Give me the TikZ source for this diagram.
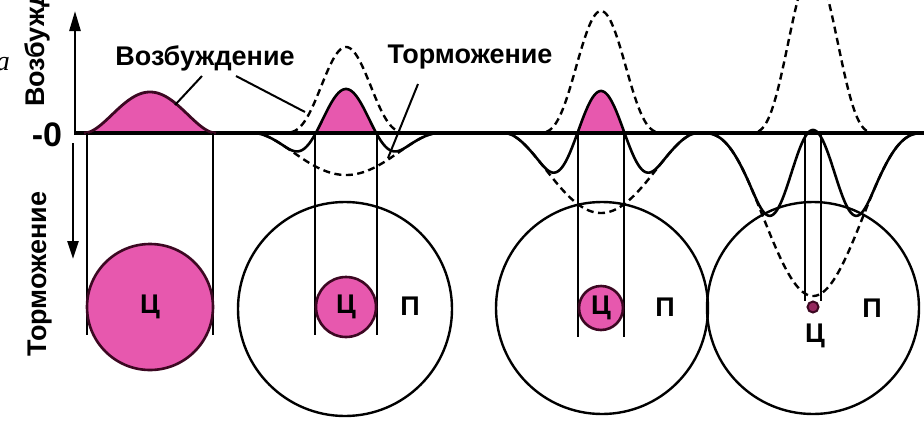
\documentclass[tikz,border=0pt]{standalone}
\usepackage{fontspec}
\setmainfont{Liberation Sans}
\newfontfamily\serifit{Liberation Serif}
\usetikzlibrary{arrows.meta}
\definecolor{pinkfill}{RGB}{231,88,174}
\definecolor{pinkedge}{RGB}{60,8,34}
\definecolor{dotfill}{RGB}{150,40,95}
\begin{document}
\begin{tikzpicture}[x=1pt,y=-1pt,
  declare function={
    ee(\dx,\amp,\wid)=\amp*(max(0,1-(\dx/\wid)*(\dx/\wid)))^4;
    ii(\dx,\amp,\wid,\pw)=\amp*(max(0,1-(\dx/\wid)*(\dx/\wid)))^\pw;
  },
  solidc/.style={line width=2.6pt,black,line join=round,line cap=round},
  dashc/.style={line width=2.4pt,black,dash pattern=on 7pt off 4.5pt},
  vline/.style={line width=1.8pt,black},
  ring/.style={circle,draw=black,line width=2.4pt,inner sep=0pt},
  pinkring/.style={circle,draw=pinkedge,fill=pinkfill,line width=2.6pt,inner sep=0pt},
  zeroline/.style={line width=3.2pt,black},
  axisline/.style={line width=2.6pt,black},
  leader/.style={line width=2pt,black},
  lbl/.style={font=\fontsize{27}{30}\selectfont\bfseries,inner sep=0pt},
  cell/.style={font=\fontsize{27}{29}\selectfont\bfseries,inner sep=0pt}
]
\useasboundingbox (0,0) rectangle (924,421);

% ---------- pink fills ----------
\fill[pinkfill] plot[domain=-66:66,samples=80] ({150+\x},{133-41*(max(0,1-(\x/66)*(\x/66)))^2}) -- cycle;
\fill[pinkfill] plot[domain=-34:34,samples=70] ({346+\x},{133-max(0,ee(\x,86,66)-ii(\x,42,93,2))}) -- cycle;
\fill[pinkfill] plot[domain=-26:26,samples=60] ({601+\x},{133-max(0,ee(\x,122,66)-ii(\x,80,97,2))}) -- cycle;

% ---------- zero line and axes ----------
\coordinate (b0) at (74,133);
\coordinate (b1) at (924,133);
\draw[zeroline] (b0) -- (b1);
\coordinate (ax0) at (75,133);
\coordinate (axtop) at (75,11);
\draw[axisline,-{Triangle[length=20pt,width=11pt]}] (ax0) -- (axtop);
\coordinate (ax1) at (73,143);
\coordinate (axbot) at (73,259);
\draw[axisline,-{Triangle[length=18pt,width=11pt]}] (ax1) -- (axbot);

% ---------- panel 1 ----------
\draw[line width=2.8pt,pinkedge,line join=round] plot[domain=-66:66,samples=80] ({150+\x},{133-41*(max(0,1-(\x/66)*(\x/66)))^2});
\coordinate (p1a) at (87,133); \coordinate (p1b) at (87,335);
\coordinate (p1c) at (213,133); \coordinate (p1d) at (213,335);
\draw[vline] (p1a) -- (p1b);
\draw[vline] (p1c) -- (p1d);
\node[pinkring,minimum size=126pt] (c1) at (150,307) {};
\node[cell] (c1l) at (c1) {Ц};

% ---------- panel 2 ----------
\draw[dashc] plot[domain=-66:66,samples=120] ({346+\x},{133-ee(\x,86,66)});
\draw[dashc] plot[domain=-93:93,samples=140] ({346+\x},{133+ii(\x,42,93,2)});
\draw[solidc] plot[domain=-93:93,samples=200] ({346+\x},{133-(ee(\x,86,66)-ii(\x,42,93,2))});
\node[ring,minimum size=214pt] (big2) at (345,309) {};
\coordinate (p2a) at (315,133); \coordinate (p2b) at (315,335);
\coordinate (p2c) at (377,133); \coordinate (p2d) at (377,335);
\draw[vline] (p2a) -- (p2b);
\draw[vline] (p2c) -- (p2d);
\node[pinkring,minimum size=60pt] (c2) at (346,307) {};
\node[cell] (c2l) at (c2) {Ц};
\node[cell] (p2l) at (410,306) {П};

% ---------- panel 3 ----------
\draw[dashc] plot[domain=-66:66,samples=120] ({601+\x},{133-ee(\x,122,66)});
\draw[dashc] plot[domain=-97:97,samples=140] ({601+\x},{133+ii(\x,80,97,2)});
\draw[solidc] plot[domain=-97:97,samples=200] ({601+\x},{133-(ee(\x,122,66)-ii(\x,80,97,2))});
\node[ring,minimum size=212pt] (big3) at (602,308) {};
\coordinate (p3a) at (578,133); \coordinate (p3b) at (578,337);
\coordinate (p3c) at (624,133); \coordinate (p3d) at (624,337);
\draw[vline] (p3a) -- (p3b);
\draw[vline] (p3c) -- (p3d);
\node[pinkring,minimum size=44pt] (c3) at (601,308) {};
\node[cell] (c3l) at (c3) {Ц};
\node[cell] (p3l) at (665,307) {П};

% ---------- panel 4 ----------
\draw[dashc] plot[domain=-66:66,samples=160] ({813+\x},{133-ee(\x,166,66)});
\draw[dashc] plot[domain=-112:112,samples=160] ({813+\x},{133+ii(\x,163,112,3)});
\draw[solidc] plot[domain=-112:112,samples=260] ({813+\x},{133-(ee(\x,166,66)-ii(\x,163,112,3))});
\node[ring,minimum size=212pt] (big4) at (813,308) {};
\coordinate (p4a) at (805,133); \coordinate (p4b) at (805,301);
\coordinate (p4c) at (821,133); \coordinate (p4d) at (821,301);
\draw[vline] (p4a) -- (p4b);
\draw[vline] (p4c) -- (p4d);
\node[circle,draw=pinkedge,fill=dotfill,line width=2pt,inner sep=0pt,minimum size=11pt] (c4) at (813,307) {};
\node[cell] (c4l) at (815,336) {Ц};
\node[cell] (p4l) at (872,308) {П};

% ---------- labels ----------
\node[lbl,anchor=base] (exc) at (205,65) {Возбуждение};
\node[lbl,anchor=base] (inh) at (470,63) {Торможение};
\coordinate (l1a) at (202,76); \coordinate (l1b) at (175,105);
\coordinate (l2a) at (236,76); \coordinate (l2b) at (305,112);
\coordinate (l3a) at (418,84); \coordinate (l3b) at (388,158);
\draw[leader] (l1a) -- (l1b);
\draw[leader] (l2a) -- (l2b);
\draw[leader] (l3a) -- (l3b);

\node[lbl,rotate=90,anchor=base west] (vexc) at (44,107) {Возбуждение};
\node[lbl,rotate=90,anchor=base west] (vinh) at (46,357) {Торможение};
\node[font=\fontsize{34}{36}\selectfont\bfseries,inner sep=0pt] (zero) at (47,135) {-0};
\node[font=\serifit\itshape\fontsize{28}{30}\selectfont,inner sep=0pt,anchor=base east] (tag) at (10,70) {а};
\end{tikzpicture}
\end{document}
